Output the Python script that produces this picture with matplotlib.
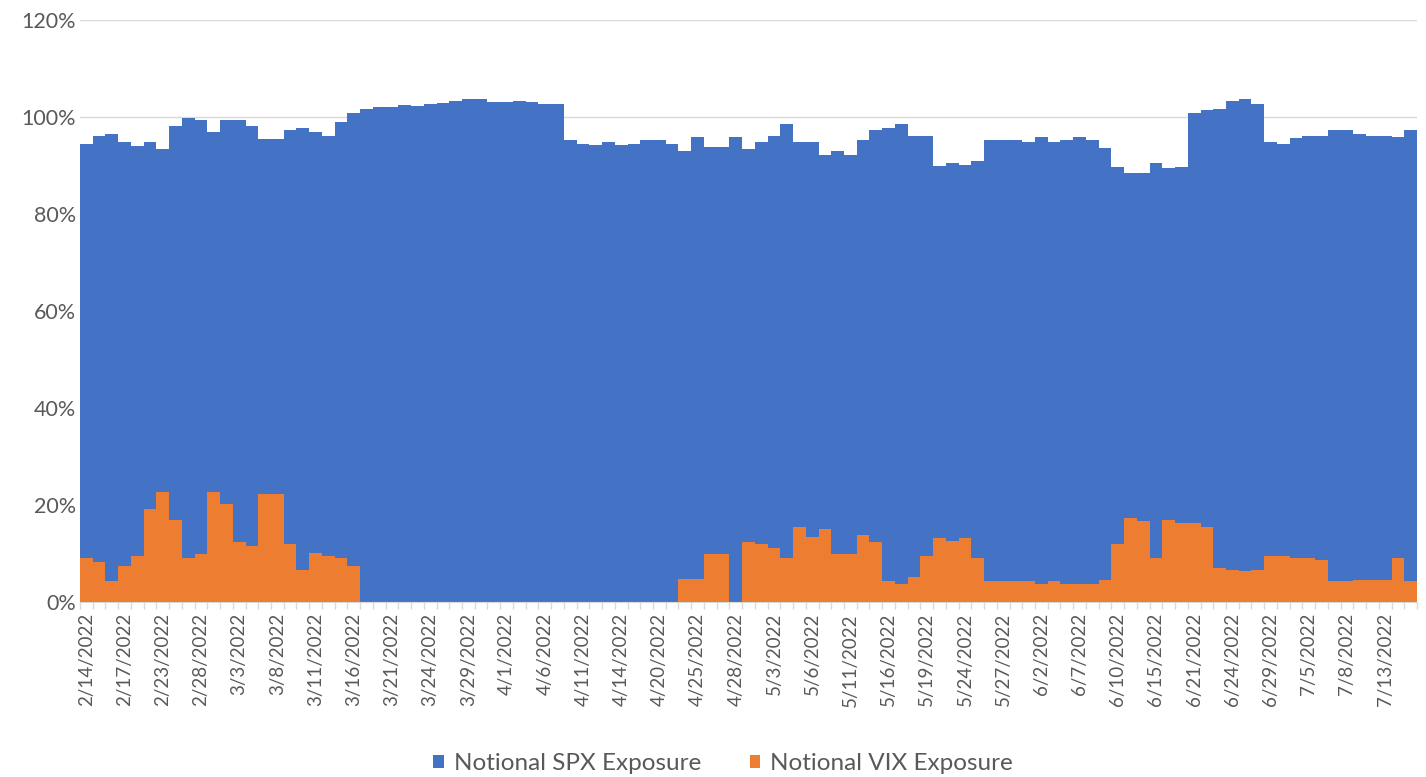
import matplotlib
import matplotlib.pyplot as plt
import numpy as np
import pandas as pd
from matplotlib.ticker import FuncFormatter

matplotlib.use('Agg')

# Trading days 2/14/2022 - 7/15/2022 (US market holidays removed)
holidays = ["2022-02-21", "2022-04-15", "2022-05-30", "2022-06-20", "2022-07-04"]
days = pd.bdate_range("2022-02-14", "2022-07-15")
days = days[~days.isin(pd.to_datetime(holidays))]
date_labels = [f"{d.month}/{d.day}/{d.year}" for d in days]

# Notional SPX exposure (% of NAV)
spx = [94.5, 96.1, 96.5, 94.9, 94.1, 94.9, 93.3, 98.1, 99.7, 99.4,
       96.9, 99.3, 99.3, 98.1, 95.4, 95.4, 97.3, 97.7, 96.9, 96.1,
       98.9, 100.9, 101.7, 102.1, 102.1, 102.5, 102.2, 102.6, 102.8, 103.4,
       103.7, 103.7, 103.1, 103.1, 103.4, 103.1, 102.6, 102.6, 95.3, 94.5,
       94.2, 94.9, 94.2, 94.5, 95.3, 95.3, 94.5, 92.9, 95.8, 93.8,
       93.8, 95.8, 93.3, 94.9, 96.1, 98.5, 94.9, 94.9, 92.1, 92.9,
       92.1, 95.3, 97.3, 97.7, 98.5, 96.1, 96.1, 89.8, 90.5, 90.2,
       90.9, 95.3, 95.3, 95.3, 94.9, 95.8, 94.9, 95.3, 95.8, 95.3,
       93.7, 89.7, 88.5, 88.5, 90.5, 89.4, 89.7, 100.9, 101.4, 101.7,
       103.4, 103.7, 102.6, 94.9, 94.5, 95.7, 96.1, 96.1, 97.3, 97.3,
       96.5, 96.1, 96.1, 95.8, 97.3]

# Notional VIX exposure (% of NAV)
vix = [9.0, 8.2, 4.3, 7.4, 9.4, 19.1, 22.6, 17.0, 9.0, 9.8,
       22.6, 20.3, 12.3, 11.5, 22.3, 22.3, 11.9, 6.7, 10.2, 9.4,
       9.0, 7.4, 0, 0, 0, 0, 0, 0, 0, 0,
       0, 0, 0, 0, 0, 0, 0, 0, 0, 0,
       0, 0, 0, 0, 0, 0, 0, 4.7, 4.7, 9.8,
       9.8, 0, 12.3, 11.9, 11.1, 9.1, 15.4, 13.5, 15.0, 9.9,
       9.9, 13.9, 12.3, 4.3, 3.8, 5.1, 9.4, 13.1, 12.6, 13.1,
       9.1, 4.3, 4.3, 4.3, 4.3, 3.8, 4.3, 3.8, 3.8, 3.8,
       4.6, 11.9, 17.4, 16.7, 9.1, 17.0, 16.3, 16.3, 15.5, 7.1,
       6.7, 6.3, 6.7, 9.4, 9.4, 9.1, 9.1, 8.7, 4.3, 4.3,
       4.6, 4.6, 4.6, 9.1, 4.3]

plt.rcParams['font.family'] = ['Lato', 'DejaVu Sans']
text_color = "#595959"
grid_color = "#D9D9D9"

fig = plt.figure(figsize=(14.26, 7.77), dpi=100)
ax = fig.add_axes([80 / 1426, 1 - 602 / 777, 1337 / 1426, 582 / 777])

x = np.arange(len(days))
ax.bar(x, np.array(spx) / 100, width=1.0, color="#4472C4", label="Notional SPX Exposure", zorder=2)
ax.bar(x, np.array(vix) / 100, width=1.0, color="#ED7D31", label="Notional VIX Exposure", zorder=3)

ax.set_xlim(-0.5, len(days) - 0.5)
ax.set_ylim(0, 1.2)
ax.set_yticks(np.arange(0, 1.21, 0.2))
ax.yaxis.set_major_formatter(FuncFormatter(lambda v, p: f"{v * 100:.0f}%"))
ax.grid(axis='y', color=grid_color, linewidth=1)
ax.set_axisbelow(True)

ax.set_xticks(x[::3])
ax.set_xticklabels(date_labels[::3], rotation=90)
ax.set_xticks(np.arange(-0.5, len(days), 1), minor=True)
ax.tick_params(axis='x', which='major', length=0, pad=8, labelsize=13.5, labelcolor=text_color)
ax.tick_params(axis='x', which='minor', length=5, color=grid_color, width=1)
ax.tick_params(axis='y', length=0, pad=3, labelsize=15.5, labelcolor=text_color)

for s in ['top', 'right', 'left']:
    ax.spines[s].set_visible(False)
ax.spines['bottom'].set_color(grid_color)

fig.legend(loc='lower center', bbox_to_anchor=(0.507, -0.024), ncol=2, frameon=False,
           fontsize=17.5, labelcolor=text_color, handlelength=0.45, handleheight=0.45,
           handletextpad=0.4, columnspacing=2.0)

plt.savefig("out.png", dpi=100)
plt.close()
